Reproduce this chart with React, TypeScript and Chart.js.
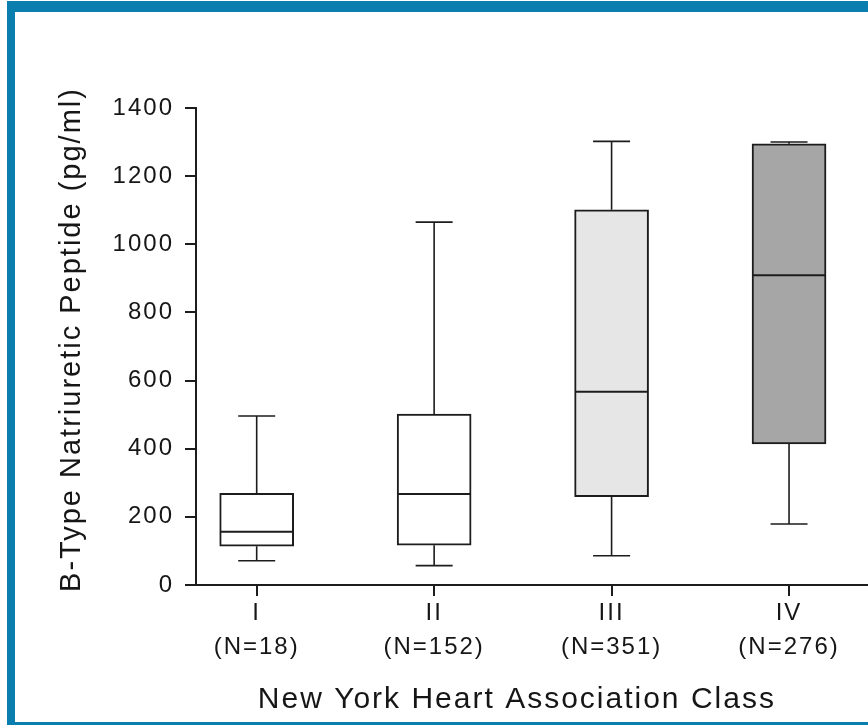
import React, { useEffect, useRef } from "react";
import { Chart, registerables } from "chart.js";

Chart.register(...registerables);

// ---- data ----
const CLASSES = ["I", "II", "III", "IV"];
const N_LABELS = ["(N=18)", "(N=152)", "(N=351)", "(N=276)"];
const WHISKER_MIN = [71, 57, 86, 179];
const Q1 = [114, 117, 259, 414];
const MEDIAN = [156, 267, 567, 909];
const Q3 = [269, 502, 1101, 1295];
const WHISKER_MAX = [496, 1065, 1302, 1300];
const BOX_COLORS = ["#ffffff", "#ffffff", "#e6e6e6", "#a6a6a6"];
const Y_MIN = 0;
const Y_MAX = 1400;
const Y_STEP = 200;
const X_TITLE = "New York Heart Association Class";
const Y_TITLE = "B-Type Natriuretic Peptide (pg/ml)";

const STROKE = "#1c1c1c";
const TEXT = "#161616";
const FONT = "'Liberation Sans', Arial, Helvetica, sans-serif";
const FRAME = "#0b7eb0";

const spacingPlugin = {
  id: "letterSpacing",
  beforeDraw(chart: any) {
    (chart.ctx as any).letterSpacing = "2px";
  },
};

const titlesPlugin = {
  id: "axisTitles",
  afterDraw(chart: any) {
    const ctx = chart.ctx;
    const xs = chart.scales.x;
    const ys = chart.scales.y;
    ctx.save();
    ctx.fillStyle = TEXT;
    ctx.textAlign = "center";
    ctx.textBaseline = "middle";
    // x title: centred under the category ticks
    ctx.font = `30px ${FONT}`;
    const cx = (xs.getPixelForValue(1) + xs.getPixelForValue(CLASSES.length)) / 2 - 6;
    ctx.fillText(X_TITLE, cx, xs.bottom - 25);
    // y title
    ctx.font = `29px ${FONT}`;
    ctx.translate(ys.left + 72, (ys.top + ys.bottom) / 2 - 7);
    ctx.rotate(-Math.PI / 2);
    ctx.fillText(Y_TITLE, 0, 0);
    ctx.restore();
  },
};

const whiskerPlugin = {
  id: "boxWhiskers",
  afterDatasetsDraw(chart: any) {
    const ctx = chart.ctx;
    const y = chart.scales.y;
    const meta = chart.getDatasetMeta(0);
    ctx.save();
    ctx.strokeStyle = STROKE;
    ctx.lineCap = "butt";
    meta.data.forEach((bar: any, i: number) => {
      const { x, width } = bar.getProps(["x", "width"], true);
      const cap = width / 2;
      const yQ1 = y.getPixelForValue(Q1[i]);
      const yQ3 = y.getPixelForValue(Q3[i]);
      const yMin = y.getPixelForValue(WHISKER_MIN[i]);
      const yMax = y.getPixelForValue(WHISKER_MAX[i]);
      const yMed = y.getPixelForValue(MEDIAN[i]);
      ctx.lineWidth = 1.6;
      ctx.beginPath();
      ctx.moveTo(x, yQ3);
      ctx.lineTo(x, yMax);
      ctx.moveTo(x - cap / 2, yMax);
      ctx.lineTo(x + cap / 2, yMax);
      ctx.moveTo(x, yQ1);
      ctx.lineTo(x, yMin);
      ctx.moveTo(x - cap / 2, yMin);
      ctx.lineTo(x + cap / 2, yMin);
      ctx.stroke();
      ctx.lineWidth = 2;
      ctx.beginPath();
      ctx.moveTo(x - width / 2 + 1, yMed);
      ctx.lineTo(x + width / 2 - 1, yMed);
      ctx.stroke();
    });
    ctx.restore();
  },
};

export default function App() {
  const canvasRef = useRef<HTMLCanvasElement | null>(null);

  useEffect(() => {
    if (!canvasRef.current) return;
    const chart = new Chart(canvasRef.current, {
      type: "bar",
      data: {
        datasets: [
          {
            label: "BNP",
            data: CLASSES.map((_, i) => ({ x: i + 1, y: [Q1[i], Q3[i]] })) as any,
            backgroundColor: BOX_COLORS,
            borderColor: STROKE,
            borderWidth: 2,
            borderSkipped: false,
            barThickness: 74,
          },
        ],
      },
      options: {
        animation: false,
        responsive: false,
        devicePixelRatio: 1,
        layout: { padding: { top: 108, left: 0, right: 0, bottom: 0 } },
        plugins: {
          legend: { display: false },
          tooltip: { enabled: false },
          title: { display: false },
        },
        scales: {
          x: {
            type: "linear",
            min: 0.658,
            max: 4.445,
            offset: false,
            afterBuildTicks: (scale: any) => {
              scale.ticks = CLASSES.map((_, i) => ({ value: i + 1 }));
            },
            afterFit: (scale: any) => {
              scale.height = 140;
            },
            grid: {
              display: true,
              offset: false,
              drawOnChartArea: false,
              drawTicks: true,
              tickLength: 11,
              color: STROKE,
              lineWidth: 2,
            },
            border: { display: true, color: STROKE, width: 2 },
            ticks: {
              autoSkip: false,
              maxRotation: 0,
              padding: 0,
              color: TEXT,
              font: { family: FONT, size: 24, lineHeight: 1.42 },
              callback: (value: any) => {
                const i = Math.round(Number(value)) - 1;
                return [CLASSES[i], N_LABELS[i]];
              },
            },
            title: { display: false, text: X_TITLE },
          },
          y: {
            min: Y_MIN,
            max: Y_MAX,
            afterFit: (scale: any) => {
              scale.width = 196;
            },
            grid: {
              display: true,
              drawOnChartArea: false,
              drawTicks: true,
              tickLength: 11,
              color: STROKE,
              lineWidth: 2,
            },
            border: { display: true, color: STROKE, width: 2 },
            ticks: {
              stepSize: Y_STEP,
              padding: 11,
              color: TEXT,
              font: { family: FONT, size: 24 },
              callback: (value: any) => String(value),
            },
            title: { display: false, text: Y_TITLE },
          },
        },
      },
      plugins: [spacingPlugin, whiskerPlugin, titlesPlugin],
    });
    return () => chart.destroy();
  }, []);

  return (
    <div
      style={{
        position: "fixed",
        left: 0,
        top: 0,
        width: 868,
        height: 725,
        background: "#ffffff",
        overflow: "hidden",
      }}
    >
      <canvas
        ref={canvasRef}
        width={868}
        height={725}
        style={{ position: "absolute", left: 0, top: 0, width: 868, height: 725 }}
      />
      <div style={{ position: "absolute", left: 7, top: 1, width: 861, height: 11, background: FRAME }} />
      <div style={{ position: "absolute", left: 7, top: 1, width: 8, height: 724, background: FRAME }} />
      <div style={{ position: "absolute", left: 7, top: 722, width: 861, height: 3, background: FRAME }} />
    </div>
  );
}
